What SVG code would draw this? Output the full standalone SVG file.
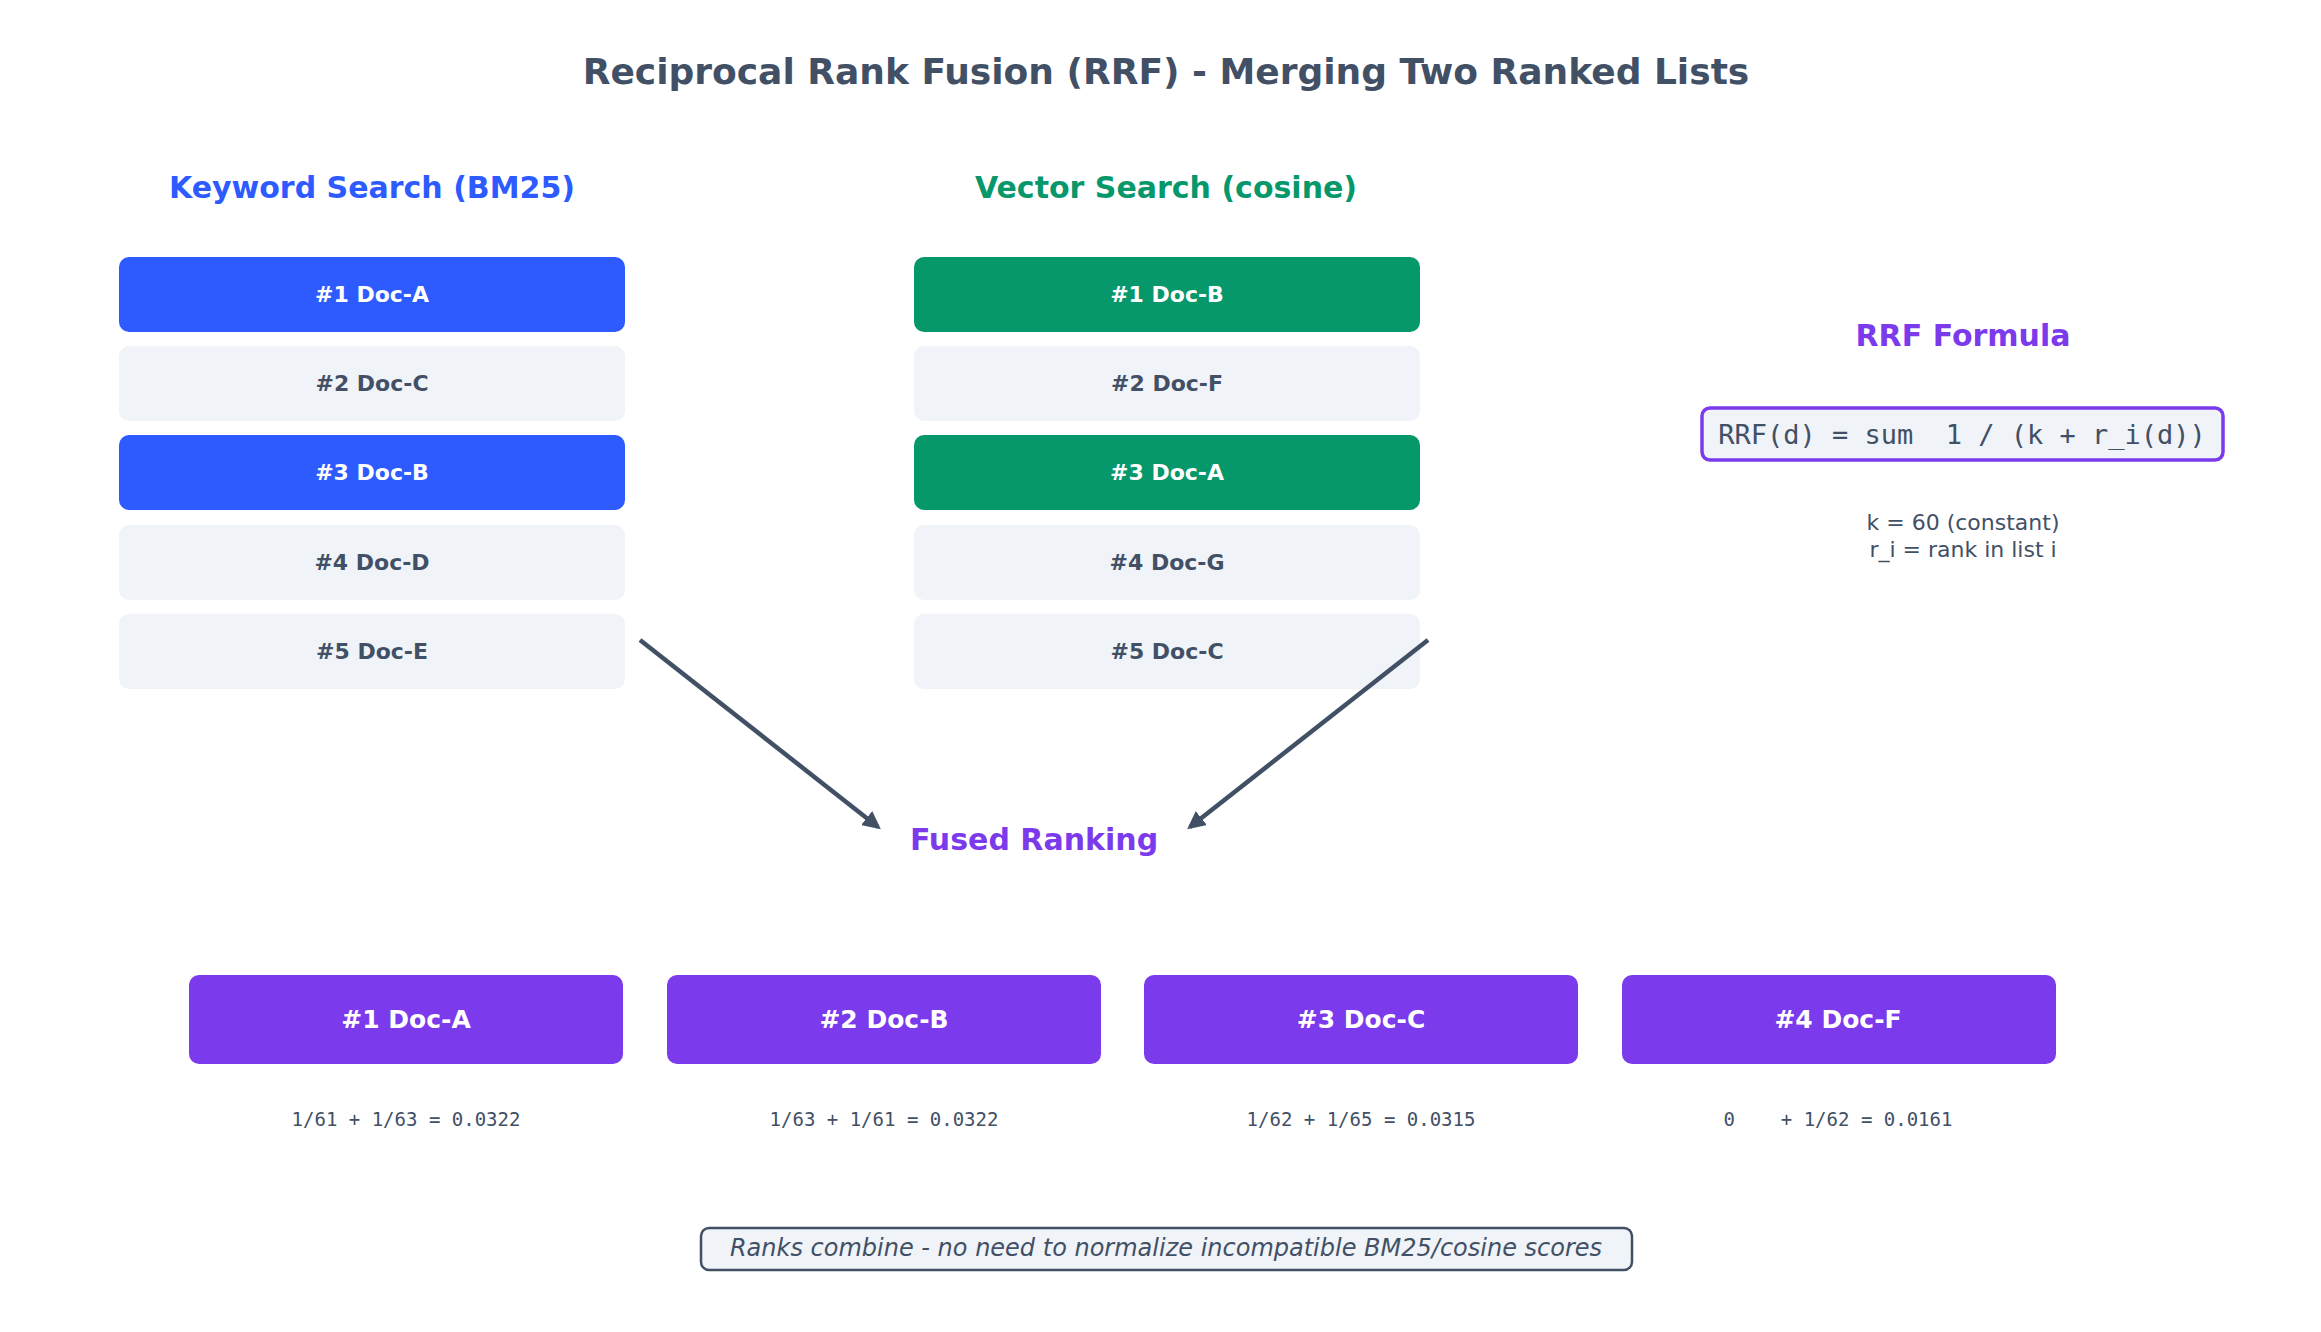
<svg xmlns="http://www.w3.org/2000/svg" width="2321" height="1332" viewBox="0 0 2321 1332">
<defs>
<style>
text{font-family:"DejaVu Sans","Liberation Sans",sans-serif;text-anchor:middle;dominant-baseline:central}
.mono{font-family:"DejaVu Sans Mono","Liberation Mono",monospace}
.b{font-weight:bold}
.blue{fill:#2d5bff}.green{fill:#06976a}.light{fill:#f0f3f8}.purple{fill:#7c3aed}
.wt{fill:#fff;font-size:22px;font-weight:bold}
.dt{fill:#425066;font-size:22px;font-weight:bold}
.arrow{stroke:#425066;stroke-width:4.5;fill:none}
</style>
<marker id="ah" viewBox="0 0 10 10" refX="8" refY="5" markerWidth="4" markerHeight="4" orient="auto"><path d="M0,0 L10,5 L0,10 z" fill="#425066"/></marker>
</defs>
<rect width="2321" height="1332" fill="#fff"/>
<text x="1166" y="71" class="b" style="font-size:36px;fill:#425066">Reciprocal Rank Fusion (RRF) - Merging Two Ranked Lists</text>
<text x="372" y="187" class="b" style="font-size:30px;fill:#2d5bff">Keyword Search (BM25)</text>
<text x="1166" y="187" class="b" style="font-size:30px;fill:#06976a">Vector Search (cosine)</text>
<g id="k1"><rect x="119" y="257" width="506" height="75" rx="10" class="blue"/><text x="372" y="294" class="wt">#1  Doc-A</text></g>
<g id="k2"><rect x="119" y="346" width="506" height="75" rx="10" class="light"/><text x="372" y="383" class="dt">#2  Doc-C</text></g>
<g id="k3"><rect x="119" y="435" width="506" height="75" rx="10" class="blue"/><text x="372" y="472" class="wt">#3  Doc-B</text></g>
<g id="k4"><rect x="119" y="525" width="506" height="75" rx="10" class="light"/><text x="372" y="562" class="dt">#4  Doc-D</text></g>
<g id="k5"><rect x="119" y="614" width="506" height="75" rx="10" class="light"/><text x="372" y="651" class="dt">#5  Doc-E</text></g>
<g id="v1"><rect x="914" y="257" width="506" height="75" rx="10" class="green"/><text x="1167" y="294" class="wt">#1  Doc-B</text></g>
<g id="v2"><rect x="914" y="346" width="506" height="75" rx="10" class="light"/><text x="1167" y="383" class="dt">#2  Doc-F</text></g>
<g id="v3"><rect x="914" y="435" width="506" height="75" rx="10" class="green"/><text x="1167" y="472" class="wt">#3  Doc-A</text></g>
<g id="v4"><rect x="914" y="525" width="506" height="75" rx="10" class="light"/><text x="1167" y="562" class="dt">#4  Doc-G</text></g>
<g id="v5"><rect x="914" y="614" width="506" height="75" rx="10" class="light"/><text x="1167" y="651" class="dt">#5  Doc-C</text></g>
<g id="formula">
<text x="1963" y="335" class="b" style="font-size:30px;fill:#7c3aed">RRF Formula</text>
<rect x="1702" y="408" width="521" height="52" rx="8" fill="#f0f3f8" stroke="#7c3aed" stroke-width="3.5"/>
<text x="1962" y="434" class="mono" style="font-size:27px;fill:#425066" xml:space="preserve">RRF(d) = sum  1 / (k + r_i(d))</text>
<text x="1963" y="522" style="font-size:22px;fill:#425066">k = 60 (constant)</text>
<text x="1963" y="549" style="font-size:22px;fill:#425066">r_i = rank in list i</text>
</g>
<g id="connectors">
<line x1="640" y1="640" x2="878" y2="827" class="arrow" marker-end="url(#ah)"/>
<line x1="1428" y1="640" x2="1190" y2="827" class="arrow" marker-end="url(#ah)"/>
</g>
<text x="1034" y="839" class="b" style="font-size:30px;fill:#7c3aed">Fused Ranking</text>
<g id="f1"><rect x="189" y="975" width="434" height="89" rx="10" class="purple"/><text x="406" y="1019" class="wt" style="font-size:25px">#1  Doc-A</text><text x="406" y="1119" class="mono" style="font-size:19px;fill:#425066">1/61 + 1/63 = 0.0322</text></g>
<g id="f2"><rect x="667" y="975" width="434" height="89" rx="10" class="purple"/><text x="884" y="1019" class="wt" style="font-size:25px">#2  Doc-B</text><text x="884" y="1119" class="mono" style="font-size:19px;fill:#425066">1/63 + 1/61 = 0.0322</text></g>
<g id="f3"><rect x="1144" y="975" width="434" height="89" rx="10" class="purple"/><text x="1361" y="1019" class="wt" style="font-size:25px">#3  Doc-C</text><text x="1361" y="1119" class="mono" style="font-size:19px;fill:#425066">1/62 + 1/65 = 0.0315</text></g>
<g id="f4"><rect x="1622" y="975" width="434" height="89" rx="10" class="purple"/><text x="1838" y="1019" class="wt" style="font-size:25px">#4  Doc-F</text><text x="1838" y="1119" class="mono" style="font-size:19px;fill:#425066" xml:space="preserve">0    + 1/62 = 0.0161</text></g>
<g id="note"><rect x="701" y="1228" width="931" height="42" rx="8" fill="#f0f3f8" stroke="#425066" stroke-width="2.5"/><text x="1166" y="1248" style="font-size:24px;font-style:italic;fill:#425066">Ranks combine - no need to normalize incompatible BM25/cosine scores</text></g>
</svg>
